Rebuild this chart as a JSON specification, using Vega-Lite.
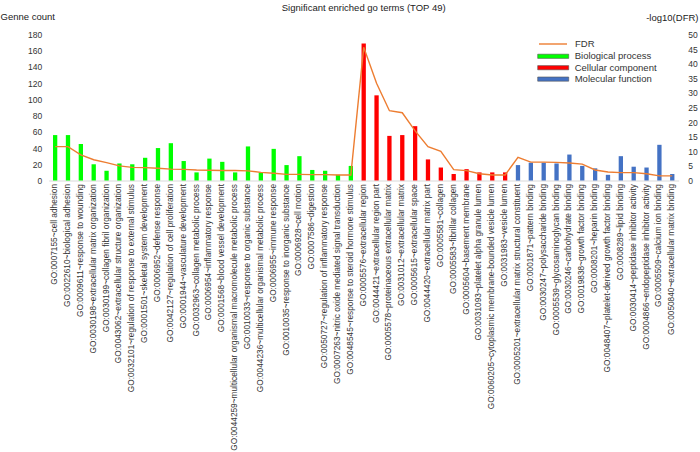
{
  "$schema": "https://vega.github.io/schema/vega-lite/v6.json",
  "width": 630,
  "height": 146,
  "autosize": {"type": "none"},
  "padding": {"left": 48.7, "top": 34.5, "right": 21.3, "bottom": 271.5},
  "config": {
    "font": "Liberation Sans",
    "view": {"stroke": null},
    "axis": {"grid": false, "ticks": false, "labelColor": "#333", "titleColor": "#222"},
    "legend": {"labelColor": "#333"}
  },
  "title": {
    "text": "Significant enriched go terms (TOP 49)",
    "fontSize": 9.5,
    "fontWeight": "normal",
    "color": "#222",
    "anchor": "middle",
    "frame": "group",
    "offset": -1
  },
  "data": {
    "values": [
      {"term": "GO:0007155~cell adhesion", "category": "Biological process", "count": 56, "fdr": 11.6},
      {"term": "GO:0022610~biological adhesion", "category": "Biological process", "count": 56, "fdr": 11.6},
      {"term": "GO:0009611~response to wounding", "category": "Biological process", "count": 45, "fdr": 8.8},
      {"term": "GO:0030198~extracellular matrix organization", "category": "Biological process", "count": 20, "fdr": 7.1},
      {"term": "GO:0030199~collagen fibril organization", "category": "Biological process", "count": 12, "fdr": 6.1},
      {"term": "GO:0043062~extracellular structure organization", "category": "Biological process", "count": 21, "fdr": 5.0},
      {"term": "GO:0032101~regulation of response to external stimulus", "category": "Biological process", "count": 20, "fdr": 4.5},
      {"term": "GO:0001501~skeletal system development", "category": "Biological process", "count": 28, "fdr": 4.4},
      {"term": "GO:0006952~defense response", "category": "Biological process", "count": 40, "fdr": 4.2},
      {"term": "GO:0042127~regulation of cell proliferation", "category": "Biological process", "count": 46, "fdr": 3.9},
      {"term": "GO:0001944~vasculature development", "category": "Biological process", "count": 24, "fdr": 3.8},
      {"term": "GO:0032963~collagen metabolic process", "category": "Biological process", "count": 10, "fdr": 3.6},
      {"term": "GO:0006954~inflammatory response", "category": "Biological process", "count": 27, "fdr": 3.5},
      {"term": "GO:0001568~blood vessel development", "category": "Biological process", "count": 23, "fdr": 3.4},
      {"term": "GO:0044259~multicellular organismal macromolecule metabolic process", "category": "Biological process", "count": 10, "fdr": 3.4},
      {"term": "GO:0010033~response to organic substance", "category": "Biological process", "count": 42, "fdr": 3.3},
      {"term": "GO:0044236~multicellular organismal metabolic process", "category": "Biological process", "count": 10, "fdr": 2.8},
      {"term": "GO:0006955~immune response", "category": "Biological process", "count": 39, "fdr": 2.5},
      {"term": "GO:0010035~response to inorganic substance", "category": "Biological process", "count": 19, "fdr": 2.1},
      {"term": "GO:0006928~cell motion", "category": "Biological process", "count": 30, "fdr": 2.1},
      {"term": "GO:0007586~digestion", "category": "Biological process", "count": 13, "fdr": 2.0},
      {"term": "GO:0050727~regulation of inflammatory response", "category": "Biological process", "count": 12, "fdr": 2.0},
      {"term": "GO:0007263~nitric oxide mediated signal transduction", "category": "Biological process", "count": 7, "fdr": 1.9},
      {"term": "GO:0048545~response to steroid hormone stimulus", "category": "Biological process", "count": 18, "fdr": 1.9},
      {"term": "GO:0005576~extracellular region", "category": "Cellular component", "count": 169, "fdr": 45.6},
      {"term": "GO:0044421~extracellular region part", "category": "Cellular component", "count": 105, "fdr": 33.3},
      {"term": "GO:0005578~proteinaceous extracellular matrix", "category": "Cellular component", "count": 55, "fdr": 23.9},
      {"term": "GO:0031012~extracellular matrix", "category": "Cellular component", "count": 56, "fdr": 23.2},
      {"term": "GO:0005615~extracellular space", "category": "Cellular component", "count": 67, "fdr": 17.0},
      {"term": "GO:0044420~extracellular matrix part", "category": "Cellular component", "count": 26, "fdr": 11.6},
      {"term": "GO:0005581~collagen", "category": "Cellular component", "count": 16, "fdr": 10.0},
      {"term": "GO:0005583~fibrillar collagen", "category": "Cellular component", "count": 8, "fdr": 3.7},
      {"term": "GO:0005604~basement membrane", "category": "Cellular component", "count": 14, "fdr": 3.4},
      {"term": "GO:0031093~platelet alpha granule lumen", "category": "Cellular component", "count": 10, "fdr": 2.3},
      {"term": "GO:0060205~cytoplasmic membrane-bounded vesicle lumen", "category": "Cellular component", "count": 10, "fdr": 1.9},
      {"term": "GO:0031983~vesicle lumen", "category": "Cellular component", "count": 10, "fdr": 1.9},
      {"term": "GO:0005201~extracellular matrix structural constituent", "category": "Molecular function", "count": 19, "fdr": 7.9},
      {"term": "GO:0001871~pattern binding", "category": "Molecular function", "count": 22, "fdr": 6.3},
      {"term": "GO:0030247~polysaccharide binding", "category": "Molecular function", "count": 22, "fdr": 6.3},
      {"term": "GO:0005539~glycosaminoglycan binding", "category": "Molecular function", "count": 21, "fdr": 6.2},
      {"term": "GO:0030246~carbohydrate binding", "category": "Molecular function", "count": 32, "fdr": 6.0},
      {"term": "GO:0019838~growth factor binding", "category": "Molecular function", "count": 18, "fdr": 5.6},
      {"term": "GO:0008201~heparin binding", "category": "Molecular function", "count": 15, "fdr": 3.6},
      {"term": "GO:0048407~platelet-derived growth factor binding", "category": "Molecular function", "count": 7, "fdr": 2.9},
      {"term": "GO:0008289~lipid binding", "category": "Molecular function", "count": 30, "fdr": 2.7},
      {"term": "GO:0030414~peptidase inhibitor activity", "category": "Molecular function", "count": 17, "fdr": 2.7},
      {"term": "GO:0004866~endopeptidase inhibitor activity", "category": "Molecular function", "count": 16, "fdr": 2.3},
      {"term": "GO:0005509~calcium ion binding", "category": "Molecular function", "count": 44, "fdr": 1.6},
      {"term": "GO:0050840~extracellular matrix binding", "category": "Molecular function", "count": 8, "fdr": 1.6}
    ]
  },
  "layer": [
    {
      "mark": {"type": "bar"},
      "encoding": {
        "x": {
          "field": "term",
          "type": "nominal",
          "sort": null,
          "scale": {"paddingInner": 0.665, "paddingOuter": 0.333},
          "axis": {
            "title": null,
            "labelAngle": -90,
            "labelFontSize": 8.3,
            "labelLimit": 400,
            "labelPadding": 3,
            "labelOverlap": false,
            "domainColor": "#d9d9d9",
            "domainWidth": 1
          }
        },
        "y": {
          "field": "count",
          "type": "quantitative",
          "scale": {"domain": [0, 180], "nice": false},
          "axis": {
            "values": [0, 20, 40, 60, 80, 100, 120, 140, 160, 180],
            "domain": false,
            "labelFontSize": 8.5,
            "labelPadding": 7,
            "title": "Genne count",
            "titleAngle": 0,
            "titleX": -48.7,
            "titleY": -18.5,
            "titleAlign": "left",
            "titleBaseline": "middle",
            "titleFontSize": 9.5,
            "titleFontWeight": "normal"
          }
        },
        "color": {
          "field": "category",
          "type": "nominal",
          "scale": {
            "domain": ["Biological process", "Cellular component", "Molecular function"],
            "range": ["#00ff00", "#ff0000", "#4472c4"]
          },
          "legend": {
            "title": null,
            "orient": "none",
            "legendX": 499,
            "legendY": 16.3,
            "symbolType": "M-3.1,-0.42H3.1V0.42H-3.1Z",
            "symbolSize": 100,
            "symbolStrokeWidth": 0.6,
            "symbolStrokeColor": "#555",
            "labelFontSize": 9.5,
            "labelOffset": 16,
            "rowPadding": 1.4
          }
        }
      }
    },
    {
      "mark": {"type": "line", "strokeWidth": 1.4},
      "encoding": {
        "x": {"field": "term", "type": "nominal", "sort": null},
        "y": {
          "field": "fdr",
          "type": "quantitative",
          "scale": {"domain": [0, 50], "nice": false},
          "axis": {
            "orient": "right",
            "values": [0, 5, 10, 15, 20, 25, 30, 35, 40, 45, 50],
            "domain": false,
            "labelFontSize": 8.5,
            "labelPadding": 9,
            "title": "-log10(DFR)",
            "titleAngle": 0,
            "titleX": -33,
            "titleY": -17.5,
            "titleAlign": "left",
            "titleBaseline": "middle",
            "titleFontSize": 9.5,
            "titleFontWeight": "normal"
          }
        },
        "stroke": {
          "datum": "FDR",
          "type": "nominal",
          "scale": {"domain": ["FDR"], "range": ["#ed7d31"]},
          "legend": {
            "title": null,
            "orient": "none",
            "legendX": 498.3,
            "legendY": 3.5,
            "symbolType": "M-2.8,0H2.8",
            "symbolSize": 100,
            "symbolStrokeWidth": 1.4,
            "labelFontSize": 9.5,
            "labelOffset": 16
          }
        }
      }
    }
  ],
  "resolve": {"scale": {"y": "independent"}}
}
